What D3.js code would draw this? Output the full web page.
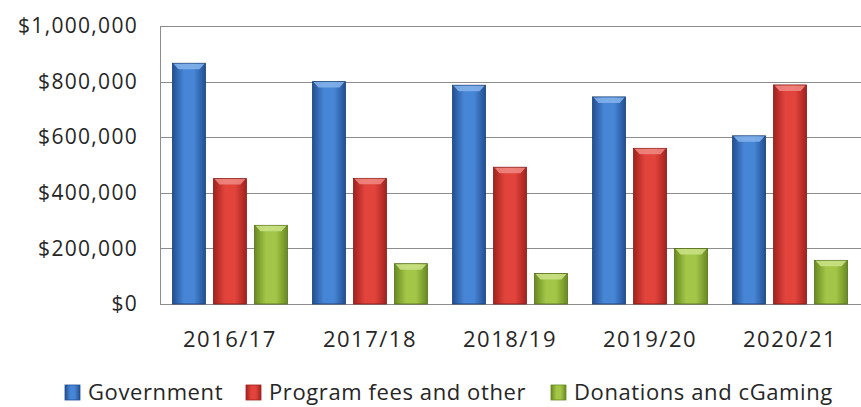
<!DOCTYPE html>
<html>
<head>
<meta charset="utf-8">
<script src="https://cdn.jsdelivr.net/npm/d3@7"></script>
<style>
  body { margin: 0; background: #fff; }
  text { font-family: "Open Sans", sans-serif; fill: #262626; }
</style>
</head>
<body>
<script>
const svgWidth = 861;
const svgHeight = 407;

const years = ['2016/17', '2017/18', '2018/19', '2019/20', '2020/21'];
const seriesNames = ['Government', 'Program fees and other', 'Donations and cGaming'];
const government = [866000, 800000, 787000, 745000, 605000];
const programFees = [451000, 452000, 492000, 560000, 788000];
const donations = [283000, 145000, 110000, 200000, 157000];
const yTicks = [0, 200000, 400000, 600000, 800000, 1000000];

const colors = [
  { mid: '#4786d6', edge: '#214f92', top: '#86b4ec' },
  { mid: '#e2443c', edge: '#a2211d', top: '#f08a84' },
  { mid: '#a3c648', edge: '#688a20', top: '#cde388' }
];

const margin = { top: 26, right: 0, bottom: 103, left: 160 };
const plotW = svgWidth - margin.left - margin.right;
const plotH = svgHeight - margin.top - margin.bottom;

const svg = d3.select('body')
              .append('svg')
              .attr('width', svgWidth)
              .attr('height', svgHeight);

// gradients for the bevelled bars
const defs = svg.append('defs');
colors.forEach((c, i) => {
  const g = defs.append('linearGradient')
                .attr('id', 'grad' + i)
                .attr('x1', '0%').attr('x2', '100%')
                .attr('y1', '0%').attr('y2', '0%');
  g.append('stop').attr('offset', '0%').attr('stop-color', c.edge);
  g.append('stop').attr('offset', '35%').attr('stop-color', c.mid);
  g.append('stop').attr('offset', '65%').attr('stop-color', c.mid);
  g.append('stop').attr('offset', '100%').attr('stop-color', c.edge);
});

const rows = years.map((y, i) => ({
  year: y,
  values: [government[i], programFees[i], donations[i]]
}));

const x0 = d3.scaleBand()
             .domain(years)
             .range([0, plotW - 1])
             .paddingInner(0.179)
             .paddingOuter(0.089);

const x1 = d3.scaleBand()
             .domain(d3.range(seriesNames.length))
             .range([0, x0.bandwidth()])
             .paddingInner(0.195);

const y = d3.scaleLinear()
            .domain([0, 1000000])
            .range([plotH, 0]);

const g = svg.append('g')
             .attr('transform', `translate(${margin.left},${margin.top})`);

// gridlines
g.selectAll('.grid')
 .data(yTicks)
 .enter()
 .append('line')
 .attr('x1', 0)
 .attr('x2', plotW)
 .attr('y1', d => Math.round(y(d)) + 0.5)
 .attr('y2', d => Math.round(y(d)) + 0.5)
 .attr('stroke', '#8c8c8c')
 .attr('stroke-width', 1);

// y axis
const yAxis = g.append('g')
               .call(d3.axisLeft(y)
                       .tickValues(yTicks)
                       .tickSize(0)
                       .tickPadding(22)
                       .tickFormat(d => '$' + d3.format(',')(d)));
yAxis.select('.domain').attr('stroke', '#8c8c8c').attr('d', `M0.5,0V${plotH}`);
yAxis.selectAll('text')
     .style('font-size', '21px')
     .style('letter-spacing', '1.3px')
     .attr('fill', '#262626');

// bars
const groups = g.selectAll('.group')
                .data(rows)
                .enter()
                .append('g')
                .attr('transform', d => `translate(${x0(d.year)},0)`);

const bars = groups.selectAll('.bar')
                   .data(d => d.values.map((v, i) => ({ v: v, i: i })))
                   .enter()
                   .append('g');

bars.append('rect')
    .attr('x', d => x1(d.i))
    .attr('y', d => y(d.v))
    .attr('width', x1.bandwidth())
    .attr('height', d => plotH - y(d.v))
    .attr('fill', d => 'url(#grad' + d.i + ')')
    .attr('stroke', d => d3.color(colors[d.i].edge).darker(0.6))
    .attr('stroke-width', 0.8);

// top bevel
bars.append('path')
    .attr('d', d => {
      const bx = x1(d.i), by = y(d.v), w = x1.bandwidth(), b = 6;
      return `M${bx + 1},${by + 0.5}L${bx + w - 1},${by + 0.5}L${bx + w - b},${by + b}L${bx + b},${by + b}Z`;
    })
    .attr('fill', d => colors[d.i].top)
    .attr('opacity', 0.85);

// x labels
g.selectAll('.xlabel')
 .data(years)
 .enter()
 .append('text')
 .attr('x', d => x0(d) + x0.bandwidth() / 2)
 .attr('y', 321)
 .attr('text-anchor', 'middle')
 .style('font-size', '22px')
 .style('letter-spacing', '1.5px')
 .text(d => d);

// legend
const legendX = [65, 246, 551];
const legend = svg.selectAll('.legend')
                  .data(seriesNames)
                  .enter()
                  .append('g')
                  .attr('transform', (d, i) => `translate(${legendX[i]},0)`);

legend.append('rect')
      .attr('x', 0)
      .attr('y', 385)
      .attr('width', 15)
      .attr('height', 15)
      .attr('fill', (d, i) => 'url(#grad' + i + ')')
      .attr('stroke', (d, i) => colors[i].edge)
      .attr('stroke-width', 0.8);

legend.append('text')
      .attr('x', 23)
      .attr('y', 400)
      .style('font-size', '22px')
      .style('letter-spacing', '0.6px')
      .text(d => d);
</script>
</body>
</html>
